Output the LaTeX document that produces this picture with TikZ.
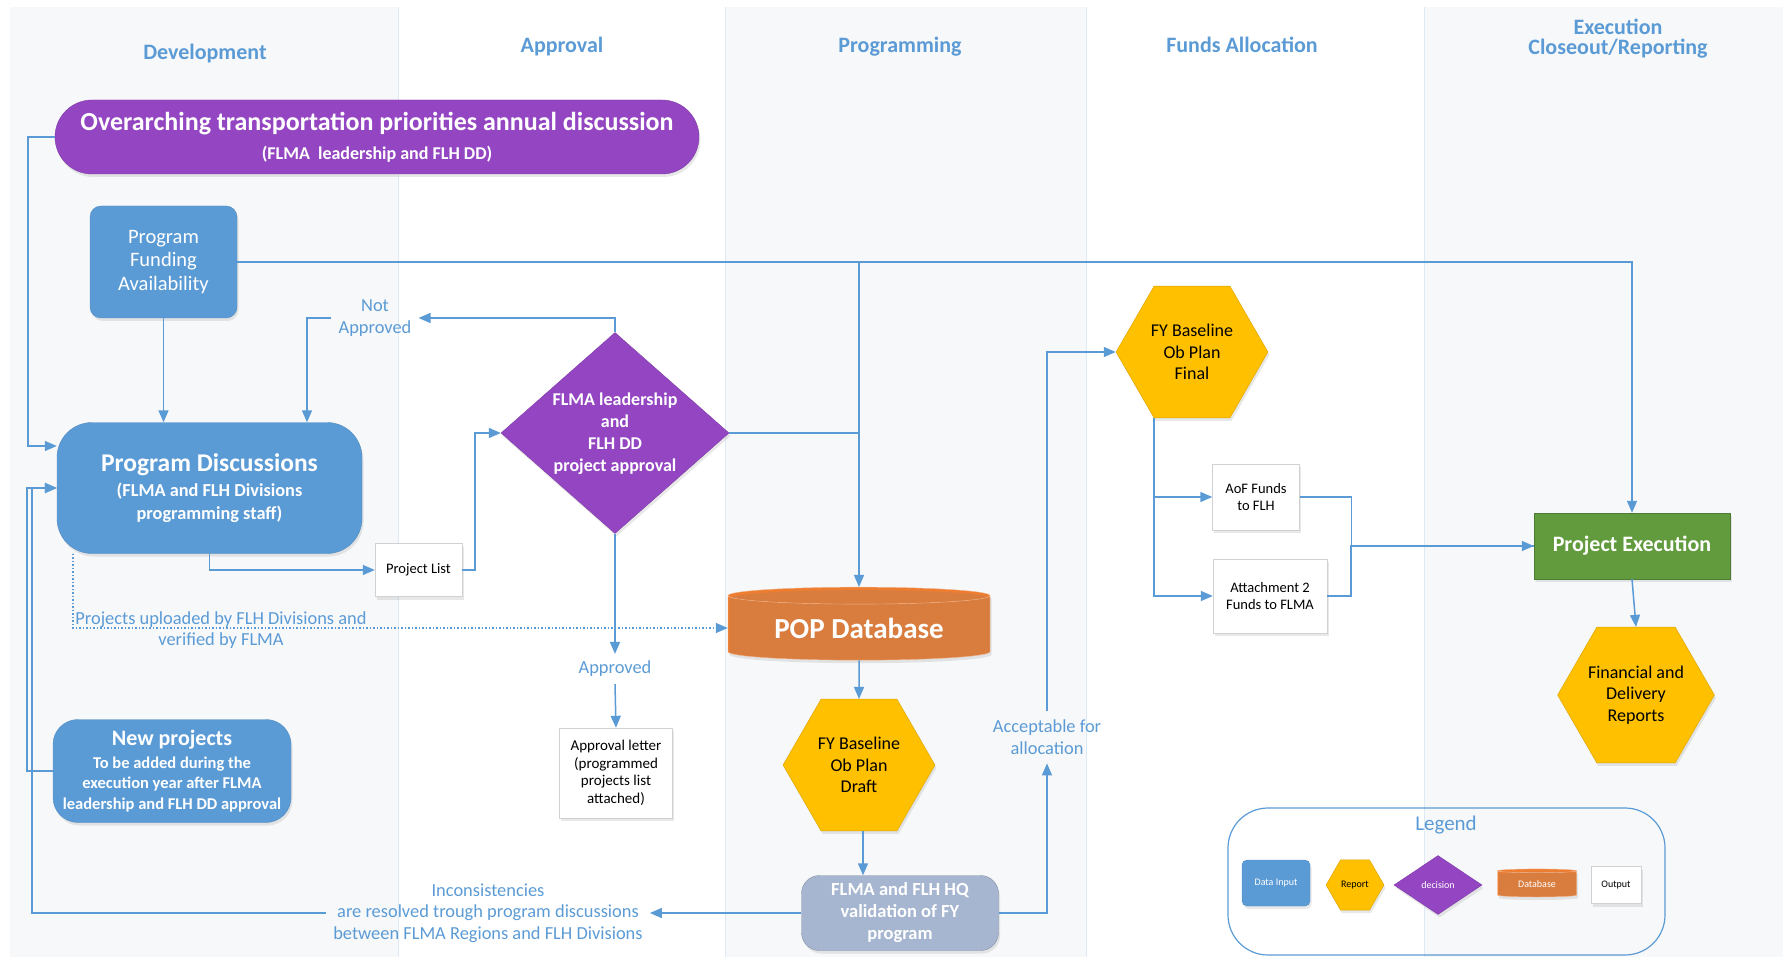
\documentclass[tikz,border=0pt]{standalone}
\usepackage{fontspec}
\setmainfont{Carlito}
\usetikzlibrary{shapes.geometric,arrows.meta,shadows}

\definecolor{laneGray}{HTML}{F7F8FA}
\definecolor{laneEdge}{HTML}{DDEAF6}
\definecolor{flowBlue}{HTML}{5B9BD5}
\definecolor{decPurple}{HTML}{9446C2}
\definecolor{dbOrange}{HTML}{ED7D31}
\definecolor{repYellow}{HTML}{FFC000}
\definecolor{valGray}{HTML}{A6B6D0}
\definecolor{execGreen}{HTML}{619B3D}

\tikzset{
  lanehead/.style={text=flowBlue, font=\bfseries\fontsize{22}{20}\selectfont, align=center},
  flow/.style={draw=flowBlue, line width=1.5pt, -{Triangle[length=12pt,width=10pt]}},
  link/.style={draw=flowBlue, line width=1.5pt},
  note/.style={text=flowBlue, font=\fontsize{18.4}{21.5}\selectfont, align=center, inner sep=7pt},
  softshadow/.style={drop shadow={opacity=0.18, shadow xshift=1.5pt, shadow yshift=-3pt}},
  inputbox/.style={fill=flowBlue, draw=flowBlue!90!black, text=white, align=center, softshadow},
  outbox/.style={fill=white, draw=black!18, text=black, align=center, inner sep=2pt,
    font=\fontsize{14.5}{17.5}\selectfont, softshadow},
  report/.style={regular polygon, regular polygon sides=6, fill=repYellow, draw=repYellow!85!black,
    inner sep=0pt, align=center, font=\fontsize{18}{21.6}\selectfont, softshadow},
  decision/.style={diamond, fill=decPurple, draw=decPurple!85!black, inner sep=0pt, softshadow},
  dbase/.style={cylinder, shape border rotate=90, cylinder uses custom fill,
    cylinder body fill=dbOrange, cylinder end fill=dbOrange, draw=dbOrange!60!white,
    text=white, inner sep=0pt, softshadow},
}

\begin{document}
\begin{tikzpicture}[x=1pt,y=-1pt]
\useasboundingbox (0,0) rectangle (1783,957);

% swim lanes
\fill[laneGray] (10,7) rectangle (398,957);
\fill[laneGray] (725,7) rectangle (1086,957);
\fill[laneGray] (1424,7) rectangle (1783,957);
\foreach \xb in {398,725,1086,1424}
  \draw[laneEdge, line width=1pt] (\xb,7) -- (\xb,957);

\node[lanehead, anchor=base] (hdev)  at (205,60)  {Development};
\node[lanehead, anchor=base] (happ)  at (562,53)  {Approval};
\node[lanehead, anchor=base] (hprog) at (900,53)  {Programming};
\node[lanehead, anchor=base] (hfund) at (1242,53) {Funds Allocation};
\node[lanehead] (hexec) at (1618,38.5) {Execution\\Closeout/Reporting};

% development
\node[fill=decPurple, draw=decPurple!85!black, rounded corners=37pt, minimum width=644pt,
  minimum height=74pt, text=white, align=center, font=\bfseries\fontsize{18}{22}\selectfont,
  softshadow] (annual) at (377,137)
  {{\fontsize{26}{30}\selectfont Overarching transportation priorities annual discussion}\\[7pt]
   (FLMA\ \ leadership and FLH DD)};
\node[inputbox, rounded corners=11pt, minimum width=147pt, minimum height=112pt,
  font=\fontsize{20.5}{23.7}\selectfont] (funding) at (163.5,262) {Program\\Funding\\Availability};
\node[inputbox, rounded corners=35pt, minimum width=305pt, minimum height=131pt,
  font=\bfseries\fontsize{18.3}{23}\selectfont] (pdisc) at (209.5,488)
  {{\fontsize{25.5}{26}\selectfont Program Discussions}\\[2pt]
   (FLMA and FLH Divisions\\programming staff)};
\node[inputbox, rounded corners=25pt, minimum width=238pt, minimum height=103pt,
  font=\bfseries\fontsize{16.5}{20.5}\selectfont] (newproj) at (172,771)
  {{\fontsize{22}{24}\selectfont New projects}\\[2pt]
   To be added during the\\execution year after FLMA\\leadership and FLH DD approval};

% approval
\node[outbox, minimum width=87pt, minimum height=53pt] (plist) at (418.5,570) {Project List};
\node[decision, minimum width=228pt, minimum height=201pt] (approval) at (615,433) {};
\node[text=white, align=center, font=\bfseries\fontsize{18}{22}\selectfont] (approvaltext) at (615,434)
  {FLMA leadership\\and\\FLH DD\\project approval};
\node[note] (notapp) at (375,318) {Not\\Approved};
\node[note] (appr) at (615,669) {Approved};
\node[outbox, minimum width=113pt, minimum height=90pt, font=\fontsize{15}{17.5}\selectfont] (letter) at (616,773)
  {Approval letter\\(programmed\\projects list\\attached)};

% programming
\node[dbase, minimum width=262pt, minimum height=73pt, aspect=0.1,
  font=\bfseries\fontsize{29}{30}\selectfont] (popdb) at (859,628) {POP Database};
\node[report, minimum size=152pt] (draft) at (859,765) {FY Baseline\\Ob Plan\\Draft};
\node[fill=valGray, draw=valGray!80!black, rounded corners=18pt, minimum width=197pt, minimum height=75pt,
  text=white, align=center, font=\bfseries\fontsize{18.5}{22}\selectfont, softshadow] (valid) at (900,913)
  {FLMA and FLH HQ\\validation of FY\\program};
\node[note] (incons) at (488,913)
  {Inconsistencies\\are resolved trough program discussions\\between FLMA Regions and FLH Divisions};
\node[note, inner sep=9pt] (accept) at (1047,737) {Acceptable for\\allocation};
\node[note, inner sep=2pt] (upload) at (221,630) {Projects uploaded by FLH Divisions and\\verified by FLMA};

% funds allocation
\node[report, minimum size=152pt] (final) at (1192,352) {FY Baseline\\Ob Plan\\Final};
\node[outbox, minimum width=87pt, minimum height=66pt] (aof) at (1256,497) {AoF Funds\\to FLH};
\node[outbox, minimum width=114pt, minimum height=74pt] (attach) at (1270,596) {Attachment 2\\Funds to FLMA};

% execution
\node[fill=execGreen, draw=execGreen!80!black, minimum width=196pt, minimum height=66pt, text=white,
  font=\bfseries\fontsize{22}{22}\selectfont, softshadow] (exec) at (1632,546) {Project Execution};
\node[report, minimum size=152pt] (finrep) at (1636,695) {Financial and\\Delivery\\Reports};

% legend
\draw[flowBlue, line width=1.2pt, rounded corners=40pt] (1228,808) rectangle (1665,955);
\node[text=flowBlue, font=\fontsize{21}{22}\selectfont] (legtitle) at (1446,825) {Legend};
\node[inputbox, rounded corners=5pt, minimum width=68pt, minimum height=46pt,
  font=\fontsize{10}{11}\selectfont] (leginput) at (1276,883) {Data Input};
\node[report, minimum size=58pt, font=\fontsize{10}{11}\selectfont] (legreport) at (1355,885) {Report};
\node[decision, minimum width=88pt, minimum height=59pt, text=white,
  font=\fontsize{10}{11}\selectfont] (legdecision) at (1438,885) {decision};
\node[dbase, minimum width=79pt, minimum height=28pt, aspect=0.1,
  font=\fontsize{10}{11}\selectfont] (legdb) at (1537,884) {Database};
\node[outbox, minimum width=50pt, minimum height=37pt, font=\fontsize{10}{11}\selectfont] (legoutput) at (1616,885) {Output};

% connectors
\draw[flow] (annual.west) -- ++(-27,0) |- ([yshift=42pt]pdisc.west);
\draw[flow] (funding.south) -- (funding.south |- pdisc.north);
\draw[flow] (funding.east) -| (popdb.north);
\draw[flow] (funding.east) -| (exec.north);
\draw[link] (approval.east) -- (approval.east -| popdb.north);
\draw[flow] (pdisc.south) |- (plist.west);
\draw[flow] (plist.east) -- ++(13,0) |- (approval.west);
\draw[flow] (approval.north) |- (notapp.east);
\draw[flow] (notapp.west) -| ([xshift=97.5pt]pdisc.north);
\draw[flow] (approval.south) -- (appr.north);
\draw[flow] (appr.south) -- (letter.north);
\draw[flow, dotted] ([xshift=16pt]pdisc.south west) |- (popdb.west);
\draw[flow] (popdb.south) -- (draft.north);
\draw[flow] ([xshift=4pt]draft.south) -- ([xshift=4pt]draft.south |- valid.north);
\draw[flow] (valid.west) -- (incons.east);
\draw[flow] (incons.west) -| ([xshift=-25pt]pdisc.west) -- (pdisc.west);
\draw[flow] (newproj.west) -| ([xshift=-30pt]pdisc.west) -- (pdisc.west);
\draw[flow] (valid.east) -| (accept.south);
\draw[flow] (accept.north) |- (final.west);
\draw[flow] ([xshift=-38pt]final.south) |- (aof.west);
\draw[flow] ([xshift=-38pt]final.south) |- (attach.west);
\draw[flow] (aof.east) -- ++(52,0) |- (exec.west);
\draw[link] (attach.east) -- ++(24,0) |- (exec.west);
\draw[flow] (exec.south) -- (finrep.north);
\end{tikzpicture}
\end{document}
